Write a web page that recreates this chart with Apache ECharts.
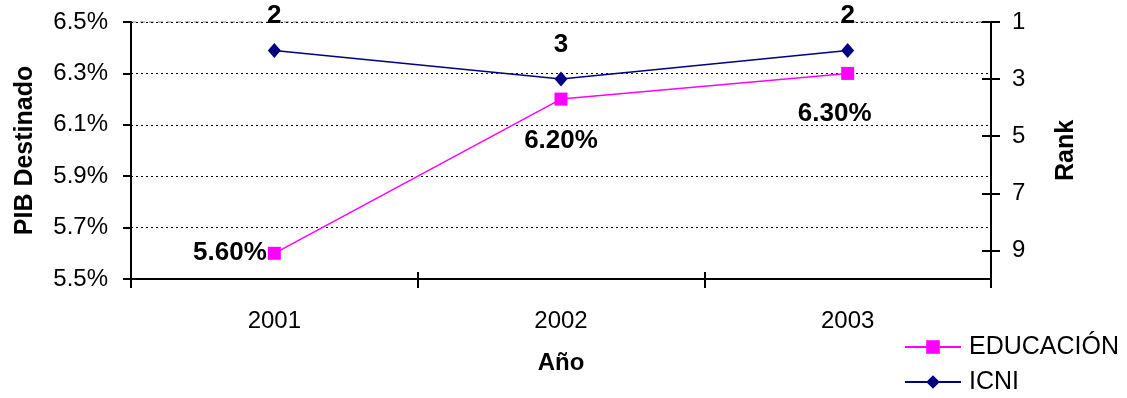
<!DOCTYPE html>
<html>
<head>
<meta charset="utf-8">
<script src="https://cdn.jsdelivr.net/npm/echarts@6/dist/echarts.min.js"></script>
<style>
  html, body { margin: 0; padding: 0; background: #fff; }
  #chart { width: 1127px; height: 398px; }
</style>
</head>
<body>
<div id="chart"></div>
<script>
// Years on the category axis
const years = ['2001', '2002', '2003'];
// Share of GDP spent on education (%)
const educacion = [5.6, 6.2, 6.3];
// ICNI rank per year
const icni = [2, 3, 2];
// Left axis range and step (%)
const pibTicks = { min: 5.5, max: 6.5, step: 0.2 };
// Right axis range and step (rank)
const rankTicks = { min: 1, max: 10, step: 2 };

const FONT = 'Liberation Sans, Arial, sans-serif';

// label placement for each education point
const eduLabelPlace = [
  { position: 'left', distance: 1, offset: [0, 0] },
  { position: 'bottom', distance: 22, offset: [0, 0] },
  { position: 'bottom', distance: 21, offset: [-13, 0] }
];

const eduData = educacion.map((v, i) => ({
  value: v,
  label: {
    position: eduLabelPlace[i].position,
    distance: eduLabelPlace[i].distance,
    offset: eduLabelPlace[i].offset
  }
}));

const chart = echarts.init(document.getElementById('chart'), null, { renderer: 'canvas' });

const boldLabel = {
  show: true,
  color: '#000',
  fontFamily: FONT,
  fontWeight: 'bold',
  fontSize: 26
};

const legendText = { fontFamily: FONT, fontSize: 25, color: '#000', lineHeight: 26, padding: [0, 0, 0, 3] };
const tickStyle = { color: '#000', width: 2 };

chart.setOption({
  animation: false,
  backgroundColor: '#fff',
  textStyle: { fontFamily: FONT },
  grid: {
    left: 131, right: 136, top: 22, bottom: 119,
    show: true,
    borderColor: '#808080',
    borderWidth: 1,
    borderType: [5, 4]
  },
  legend: [
    {
      left: 904, top: 334, padding: 0,
      itemWidth: 56, itemHeight: 17,
      textStyle: legendText,
      data: ['EDUCACIÓN']
    },
    {
      left: 904, top: 369, padding: 0,
      itemWidth: 56, itemHeight: 17,
      textStyle: legendText,
      data: ['ICNI']
    }
  ],
  xAxis: [
    {
      type: 'category',
      data: years,
      boundaryGap: true,
      name: 'Año',
      nameLocation: 'middle',
      nameGap: 72,
      nameTextStyle: { fontFamily: FONT, fontWeight: 'bold', fontSize: 24, color: '#000' },
      axisLine: { lineStyle: { color: '#000', width: 2 } },
      axisTick: { show: true, alignWithLabel: false, length: 9, lineStyle: tickStyle },
      axisLabel: { fontFamily: FONT, fontSize: 24, color: '#000', margin: 30 }
    },
    {
      // inner half of the crossing tick marks on the category axis
      type: 'category',
      data: years,
      position: 'bottom',
      boundaryGap: true,
      axisLine: { show: false },
      axisTick: { show: true, inside: true, alignWithLabel: false, length: 7, lineStyle: tickStyle },
      axisLabel: { show: false },
      splitLine: { show: false }
    }
  ],
  yAxis: [
    {
      type: 'value',
      position: 'left',
      min: pibTicks.min,
      max: pibTicks.max,
      interval: pibTicks.step,
      name: 'PIB Destinado',
      nameLocation: 'middle',
      nameRotate: 90,
      nameGap: 93,
      nameTextStyle: { fontFamily: FONT, fontWeight: 'bold', fontSize: 25, color: '#000' },
      axisLine: { show: true, lineStyle: { color: '#000', width: 2 } },
      axisTick: { show: true, length: 8, lineStyle: tickStyle },
      axisLabel: {
        fontFamily: FONT, fontSize: 24, color: '#000', margin: 23,
        formatter: v => v.toFixed(1) + '%'
      },
      splitLine: { show: true, lineStyle: { color: '#000', width: 1, type: [2, 3] } }
    },
    {
      type: 'value',
      position: 'right',
      inverse: true,
      min: rankTicks.min,
      max: rankTicks.max,
      interval: rankTicks.step,
      name: 'Rank',
      nameLocation: 'middle',
      nameRotate: 90,
      nameGap: 63,
      nameTextStyle: { fontFamily: FONT, fontWeight: 'bold', fontSize: 25, color: '#000' },
      axisLine: { show: true, lineStyle: { color: '#000', width: 2 } },
      axisTick: { show: true, length: 9, lineStyle: tickStyle },
      axisLabel: { fontFamily: FONT, fontSize: 24, color: '#000', margin: 21, showMaxLabel: false },
      splitLine: { show: false }
    },
    {
      // inner half of the crossing tick marks on the rank axis
      type: 'value',
      position: 'right',
      inverse: true,
      min: rankTicks.min,
      max: rankTicks.max,
      interval: rankTicks.step,
      axisLine: { show: false },
      axisTick: { show: true, inside: true, length: 9, lineStyle: tickStyle },
      axisLabel: { show: false },
      splitLine: { show: false }
    }
  ],
  series: [
    {
      name: 'EDUCACIÓN',
      type: 'line',
      yAxisIndex: 0,
      data: eduData,
      color: '#FF00FF',
      symbol: 'rect',
      symbolSize: 13,
      lineStyle: { color: '#FF00FF', width: 1.5 },
      itemStyle: { color: '#FF00FF' },
      label: Object.assign({}, boldLabel, {
        formatter: p => p.value.toFixed(2) + '%'
      }),
      z: 3
    },
    {
      name: 'ICNI',
      type: 'line',
      yAxisIndex: 1,
      data: icni,
      color: '#000080',
      symbol: 'diamond',
      symbolSize: [13, 15],
      lineStyle: { color: '#000080', width: 1.5 },
      itemStyle: { color: '#000080' },
      label: Object.assign({}, boldLabel, { position: 'top', distance: 14 }),
      z: 4
    }
  ]
});
</script>
</body>
</html>
